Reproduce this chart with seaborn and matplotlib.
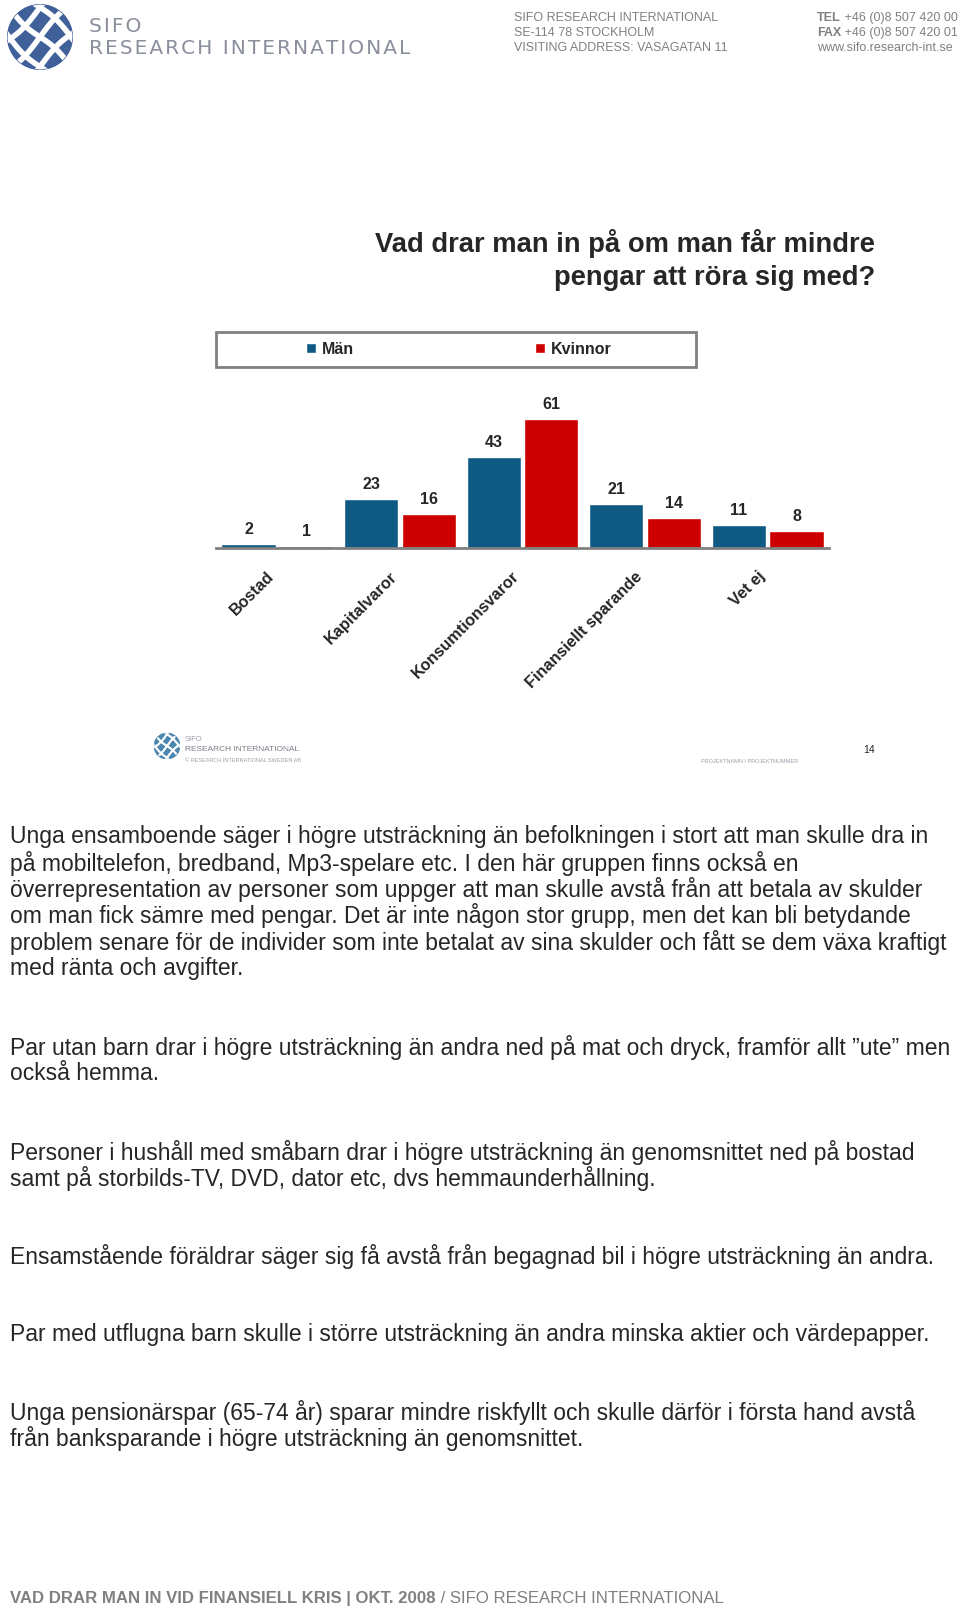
import numpy as np
import pandas as pd
import seaborn as sb
import matplotlib.pyplot as plt
from matplotlib.patches import Circle, Rectangle

## Vad drar man in på om man får mindre pengar - Män vs Kvinnor

kategorier = ["Bostad", "Kapitalvaror", "Konsumtionsvaror", "Finansiellt sparande", "Vet ej"]
man = [2, 23, 43, 21, 11]
kvinnor = [1, 16, 61, 14, 8]
serier = ["Män", "Kvinnor"]

titel = ["Vad drar man in på om man får mindre", "pengar att röra sig med?"]

stycken = [
    ["Unga ensamboende säger i högre utsträckning än befolkningen i stort att man skulle dra in",
     "på mobiltelefon, bredband, Mp3-spelare etc. I den här gruppen finns också en",
     "överrepresentation av personer som uppger att man skulle avstå från att betala av skulder",
     "om man fick sämre med pengar. Det är inte någon stor grupp, men det kan bli betydande",
     "problem senare för de individer som inte betalat av sina skulder och fått se dem växa kraftigt",
     "med ränta och avgifter."],
    ["Par utan barn drar i högre utsträckning än andra ned på mat och dryck, framför allt \u201dute\u201d men",
     "också hemma."],
    ["Personer i hushåll med småbarn drar i högre utsträckning än genomsnittet ned på bostad",
     "samt på storbilds-TV, DVD, dator etc, dvs hemmaunderhållning."],
    ["Ensamstående föräldrar säger sig få avstå från begagnad bil i högre utsträckning än andra."],
    ["Par med utflugna barn skulle i större utsträckning än andra minska aktier och värdepapper."],
    ["Unga pensionärspar (65-74 år) sparar mindre riskfyllt och skulle därför i första hand avstå",
     "från banksparande i högre utsträckning än genomsnittet."],
]
stycke_y = [837, 1047, 1152, 1256, 1334, 1412]

adress = ["SIFO RESEARCH INTERNATIONAL", "SE-114 78 STOCKHOLM", "VISITING ADDRESS: VASAGATAN 11"]
kontakt = [("TEL", " +46 (0)8 507 420 00"), ("FAX", " +46 (0)8 507 420 01"), ("", "www.sifo.research-int.se")]

BLA = "#0E5A84"
ROD = "#CC0000"
GRA = "#808080"
W, H = 960, 1610

sb.set_style("white")
plt.rcParams["font.family"] = ["Liberation Sans", "DejaVu Sans"]
NARROW = ["Liberation Sans Narrow", "Liberation Sans", "DejaVu Sans"]

fig = plt.figure(figsize=(W / 100, H / 100), dpi=100)


def px(x, y):
    return x / W, 1 - y / H


def logo(cx, cy, r, farg):
    lax = fig.add_axes([(cx - r) / W, 1 - (cy + r) / H, 2 * r / W, 2 * r / H])
    lax.set_xlim(-1, 1)
    lax.set_ylim(-1, 1)
    lax.axis("off")
    c = Circle((0, 0), 0.98, color=farg)
    lax.add_patch(c)
    t = np.linspace(-1.2, 1.2, 50)
    for off in [-0.75, 0.0, 0.75]:
        for s in [1, -1]:
            ln, = lax.plot(t, s * t + off * 1.2 + 0.12 * np.sin(3 * t), color="white",
                           lw=r * 0.12, solid_capstyle="butt")
            ln.set_clip_path(c)


def spärra(s):
    return "\u200a".join(s)


# header
logo(40, 37, 33, "#40609A")
fig.text(*px(89, 27), spärra("SIFO"), fontsize=14.5, color="#8a8f9c", va="center",
         family=["DejaVu Sans"])
fig.text(*px(89, 48), spärra("RESEARCH INTERNATIONAL"), fontsize=14.5, color="#8a8f9c",
         va="center", family=["DejaVu Sans"])
for i, rad in enumerate(adress):
    fig.text(*px(514, 18 + 15 * i), rad, fontsize=9, color=GRA, va="center", family=NARROW)
for i, (fet, rest) in enumerate(kontakt):
    t1 = fig.text(*px(817, 18 + 15 * i), fet, fontsize=9, color=GRA, va="center",
                  family=NARROW, fontweight="bold")
    plt.annotate(rest, xy=(1, 0.5), xycoords=t1, va="center", fontsize=9,
                 color=GRA, family=NARROW, annotation_clip=False)

# title
for i, rad in enumerate(titel):
    fig.text(*px(875, 243 + 35 * i), rad, fontsize=19.7, fontweight="bold",
             ha="right", va="center")

# chart
df = pd.DataFrame({
    "kategori": kategorier * 2,
    "kon": [serier[0]] * len(man) + [serier[1]] * len(kvinnor),
    "andel": man + kvinnor,
})
ax = fig.add_axes([216 / W, (H - 548) / H, 613 / W, 148 / H])
sb.barplot(data=df, x="kategori", y="andel", hue="kon", palette=[BLA, ROD],
           width=0.94, gap=0.06, ax=ax, saturation=1)
handles, labels = ax.get_legend_handles_labels()
ax.get_legend().remove()
ax.set_ylim(0, 70)
ax.set_xlim(-0.5, len(kategorier) - 0.5)
for cont in ax.containers:
    ax.bar_label(cont, fmt="%d", padding=5, fontsize=11.5, fontweight="bold")
for s in ["top", "left", "right"]:
    ax.spines[s].set_visible(False)
ax.spines["bottom"].set_color(GRA)
ax.spines["bottom"].set_linewidth(2)
ax.spines["bottom"].set_zorder(5)
ax.set_yticks([])
ax.set_xlabel("")
ax.set_ylabel("")
ax.set_xticks(np.arange(-0.5, len(kategorier)), minor=True)
ax.tick_params(axis="x", which="minor", length=5, width=1.5, color=GRA, direction="out")
ax.tick_params(axis="x", which="major", length=0, pad=15)
ax.set_xticks(range(len(kategorier)))
ax.set_xticklabels(kategorier, rotation=45, ha="right", fontweight="bold", fontsize=11.7)

# legend box
fig.patches.append(Rectangle(px(216, 367), 480 / W, 35 / H, transform=fig.transFigure,
                             fill=False, edgecolor=GRA, lw=2))
fig.legend(handles, labels, loc="center", bbox_to_anchor=px(459, 349), ncol=2,
           frameon=False, handlelength=0.6, handleheight=0.6, handletextpad=0.4,
           columnspacing=11.3, prop={"weight": "bold", "size": 11.5})

# slide footer
logo(167, 746, 13, "#4A86B0")
fig.text(*px(185, 739), "SIFO", fontsize=5.5, color="#9aa0aa", va="center")
fig.text(*px(185, 749), "RESEARCH INTERNATIONAL", fontsize=6, color="#7a8088", va="center")
fig.text(*px(185, 760), "© RESEARCH INTERNATIONAL SWEDEN AB", fontsize=4, color="#9aa0aa", va="center")
fig.text(*px(701, 761), "PROJEKTNAMN / PROJEKTNUMMER", fontsize=4, color="#9aa0aa", va="center")
fig.text(*px(875, 750), "14", fontsize=7.5, ha="right", va="center")

# body text
for stycke, y0 in zip(stycken, stycke_y):
    for j, rad in enumerate(stycke):
        fig.text(*px(10, y0 + 26.3 * j), rad, fontsize=16.5, va="center")

# bottom footer
f1 = fig.text(*px(10, 1598), "VAD DRAR MAN IN VID FINANSIELL KRIS | OKT. 2008", fontsize=12.1,
              fontweight="bold", color=GRA, va="center", family=NARROW)
plt.annotate(" / SIFO RESEARCH INTERNATIONAL", xy=(1, 0.5), xycoords=f1, va="center",
             fontsize=12.1, color=GRA, family=NARROW, annotation_clip=False)

fig.savefig("out.png", dpi=100)
